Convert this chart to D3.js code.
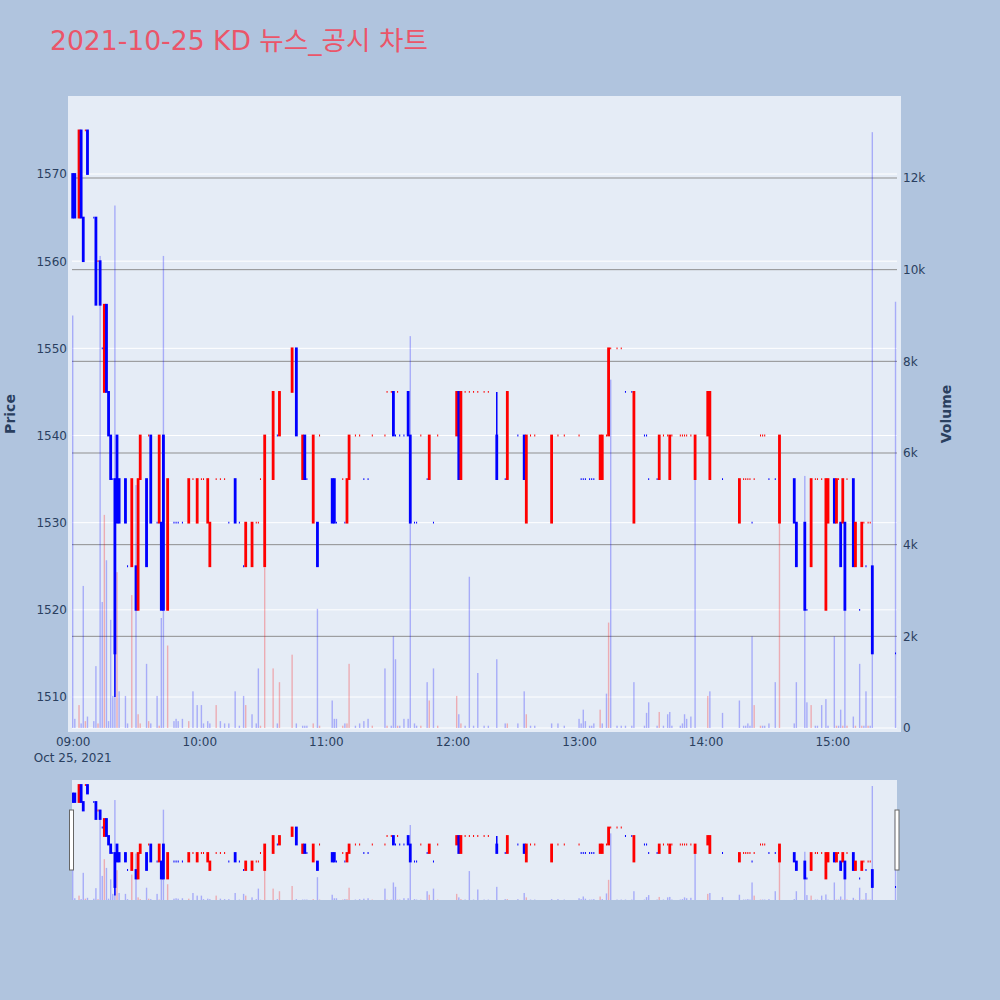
<!DOCTYPE html>
<html><head><meta charset="utf-8">
<script src="https://cdn.jsdelivr.net/npm/d3@7"></script>
<style>body{margin:0;background:#b0c4de;}svg{display:block;}</style>
</head><body>
<svg id="chart" width="1000" height="1000"></svg>
<script>
const chartTitle = "2021-10-25 KD 뉴스_공시 차트";
const tradeDay = "2021-10-25";
const times = [
"09:00","09:01","09:03","09:04","09:05","09:06","09:07","09:10","09:11","09:12",
"09:13","09:14","09:15","09:16","09:17","09:18","09:19","09:20","09:21","09:22",
"09:25","09:26","09:28","09:30","09:31","09:32","09:35","09:36","09:37","09:40",
"09:41","09:42","09:43","09:45","09:48","09:49","09:50","09:52","09:55","09:57",
"09:59","10:01","10:02","10:04","10:05","10:08","10:10","10:12","10:14","10:17",
"10:19","10:21","10:22","10:25","10:27","10:28","10:29","10:31","10:35","10:37",
"10:38","10:44","10:46","10:49","10:50","10:51","10:54","10:56","10:57","11:03",
"11:04","11:05","11:08","11:09","11:10","11:11","11:14","11:16","11:18","11:20",
"11:22","11:28","11:29","11:31","11:32","11:33","11:34","11:35","11:37","11:39",
"11:40","11:42","11:43","11:45","11:48","11:49","11:51","11:53","12:02","12:03",
"12:04","12:06","12:08","12:10","12:12","12:15","12:17","12:21","12:25","12:26",
"12:31","12:34","12:35","12:37","12:39","12:47","12:50","12:53","13:00","13:01",
"13:02","13:03","13:05","13:06","13:07","13:10","13:11","13:13","13:14","13:15",
"13:18","13:20","13:22","13:25","13:26","13:31","13:32","13:33","13:37","13:38",
"13:40","13:42","13:43","13:44","13:48","13:49","13:50","13:51","13:53","13:55",
"14:01","14:02","14:08","14:16","14:18","14:19","14:20","14:21","14:22","14:23",
"14:26","14:27","14:28","14:30","14:33","14:35","14:42","14:43","14:47","14:48",
"14:50","14:52","14:53","14:55","14:57","14:58","15:01","15:02","15:03","15:04",
"15:05","15:06","15:07","15:10","15:11","15:13","15:14","15:15","15:16","15:17",
"15:18","15:19","15:30"];
const openP = [
1570,1570,1565,1575,1565,1575,1575,1565,1565,1560,
1560,1550,1545,1555,1545,1540,1535,1535,1540,1535,
1535,1525,1525,1525,1520,1535,1535,1540,1540,1530,
1530,1530,1540,1520,1530,1530,1530,1530,1530,1535,
1530,1535,1535,1530,1525,1535,1535,1535,1530,1535,
1530,1525,1525,1525,1530,1530,1535,1525,1535,1540,
1540,1545,1550,1535,1540,1535,1530,1530,1540,1535,
1535,1530,1535,1530,1530,1535,1540,1540,1535,1535,
1540,1540,1545,1545,1545,1540,1545,1540,1540,1545,
1540,1530,1530,1540,1535,1535,1530,1540,1540,1545,
1535,1545,1545,1545,1545,1545,1545,1540,1535,1535,
1540,1540,1530,1540,1540,1530,1540,1540,1540,1535,
1535,1535,1535,1535,1535,1535,1535,1540,1540,1550,
1550,1550,1545,1545,1530,1540,1540,1535,1535,1535,
1540,1540,1535,1540,1540,1540,1540,1540,1540,1535,
1540,1535,1535,1530,1535,1535,1535,1535,1530,1535,
1540,1540,1540,1535,1535,1530,1535,1530,1530,1520,
1525,1535,1535,1535,1520,1530,1535,1530,1535,1530,
1530,1530,1535,1535,1525,1520,1525,1530,1525,1530,
1530,1525,1515];
const highP = [
1570,1570,1575,1575,1565,1575,1575,1565,1565,1560,
1560,1550,1555,1555,1545,1540,1535,1535,1540,1535,
1535,1525,1535,1525,1535,1540,1535,1540,1540,1530,
1540,1530,1540,1535,1530,1530,1530,1530,1535,1535,
1535,1535,1535,1535,1530,1535,1535,1535,1530,1535,
1530,1525,1530,1530,1530,1530,1535,1540,1545,1540,
1545,1550,1550,1540,1540,1535,1540,1530,1540,1535,
1535,1530,1535,1530,1535,1540,1540,1540,1535,1535,
1540,1540,1545,1545,1545,1540,1545,1540,1540,1545,
1540,1530,1530,1540,1535,1540,1530,1540,1545,1545,
1545,1545,1545,1545,1545,1545,1545,1545,1535,1545,
1540,1540,1540,1540,1540,1540,1540,1540,1540,1535,
1535,1535,1535,1535,1535,1540,1540,1540,1550,1550,
1550,1550,1545,1545,1545,1540,1540,1535,1535,1540,
1540,1540,1540,1540,1540,1540,1540,1540,1540,1540,
1545,1545,1535,1535,1535,1535,1535,1535,1530,1535,
1540,1540,1540,1535,1535,1540,1535,1530,1530,1520,
1535,1535,1535,1535,1535,1535,1535,1535,1535,1530,
1535,1530,1535,1535,1530,1520,1530,1530,1525,1530,
1530,1525,1515];
const lowP = [
1565,1565,1565,1565,1560,1575,1570,1565,1555,1560,
1555,1550,1545,1545,1540,1535,1535,1510,1530,1530,
1530,1525,1525,1520,1520,1535,1525,1540,1530,1530,
1530,1520,1520,1520,1530,1530,1530,1530,1530,1535,
1530,1535,1535,1530,1525,1535,1535,1535,1530,1530,
1530,1525,1525,1525,1530,1530,1535,1525,1535,1540,
1540,1545,1540,1535,1535,1535,1530,1525,1540,1530,
1530,1530,1535,1530,1530,1535,1540,1540,1535,1535,
1540,1540,1545,1545,1540,1540,1545,1540,1540,1540,
1530,1530,1530,1540,1535,1535,1530,1540,1540,1535,
1535,1545,1545,1545,1545,1545,1545,1535,1535,1535,
1540,1535,1530,1540,1540,1530,1540,1540,1540,1535,
1535,1535,1535,1535,1535,1535,1535,1540,1540,1550,
1550,1550,1545,1545,1530,1540,1540,1535,1535,1535,
1540,1540,1535,1540,1540,1540,1540,1540,1540,1535,
1540,1535,1535,1530,1535,1535,1535,1535,1530,1535,
1540,1540,1540,1535,1535,1530,1530,1525,1520,1520,
1525,1535,1535,1535,1520,1530,1530,1530,1535,1525,
1530,1520,1535,1525,1525,1520,1525,1530,1525,1530,
1530,1515,1515];
const closeP = [
1565,1565,1575,1565,1560,1575,1570,1565,1555,1560,
1555,1550,1555,1545,1540,1535,1535,1515,1530,1530,
1530,1525,1535,1520,1535,1540,1525,1540,1530,1530,
1540,1520,1520,1535,1530,1530,1530,1530,1535,1535,
1535,1535,1535,1535,1530,1535,1535,1535,1530,1530,
1530,1525,1530,1530,1530,1530,1535,1540,1545,1540,
1545,1550,1540,1540,1535,1535,1540,1525,1540,1530,
1530,1530,1535,1530,1535,1540,1540,1540,1535,1535,
1540,1540,1545,1545,1540,1540,1545,1540,1540,1540,
1530,1530,1530,1540,1535,1540,1530,1540,1545,1535,
1545,1545,1545,1545,1545,1545,1545,1535,1535,1545,
1540,1535,1540,1540,1540,1540,1540,1540,1540,1535,
1535,1535,1535,1535,1535,1540,1540,1540,1550,1550,
1550,1550,1545,1545,1545,1540,1540,1535,1535,1540,
1540,1540,1540,1540,1540,1540,1540,1540,1540,1540,
1545,1545,1535,1535,1535,1535,1535,1535,1530,1535,
1540,1540,1540,1535,1535,1540,1530,1525,1520,1520,
1535,1535,1535,1535,1535,1535,1530,1535,1535,1525,
1535,1520,1535,1525,1530,1520,1530,1530,1525,1530,
1530,1515,1515];
const volume = [
9000,200,500,100,3100,150,250,150,1350,100,
10300,2750,4650,3660,150,2360,700,11400,3400,800,
700,100,2900,5300,300,100,1400,150,100,700,
50,2400,10300,1800,150,200,150,200,150,800,
500,500,100,150,100,500,150,100,100,800,
50,700,500,300,100,1300,50,3500,1300,100,
1000,1600,100,50,50,50,100,2600,50,600,
200,200,50,100,100,1400,50,100,150,200,
50,1300,50,50,2000,1500,50,50,200,200,
8550,100,50,50,1000,600,1300,50,700,300,
100,50,3300,50,1200,50,50,1500,100,100,
100,800,300,50,50,100,100,50,200,100,
400,150,50,50,100,400,100,750,2300,7600,
50,50,50,50,1000,50,330,560,50,350,
50,300,350,50,50,100,300,200,250,5600,
700,800,330,600,50,50,100,50,2000,500,
50,50,50,100,1000,4500,100,1000,5500,560,
500,50,50,500,630,50,2000,50,50,400,
50,2600,50,250,50,1400,50,50,800,50,
50,13000,9300];
const priceTicks = [1510,1520,1530,1540,1550,1560,1570];
const volumeTicks = [0,2000,4000,6000,8000,10000,12000];
const volumeTickLabels = ["0","2k","4k","6k","8k","10k","12k"];
const hourTicks = ["09:00","10:00","11:00","12:00","13:00","14:00","15:00"];
const dateLabel = "Oct 25, 2021";

const UP = "#ff0000", DOWN = "#0000ff", INK = "#2a3f5f";
const FONT = "'DejaVu Sans', 'Noto Sans CJK KR', sans-serif";
const parse = d3.timeParse("%Y-%m-%d %H:%M");
const rows = times.map((t, i) => ({
  t: parse(tradeDay + " " + t), o: openP[i], h: highP[i], l: lowP[i], c: closeP[i], v: volume[i]
}));
// Plotly-style direction: body direction, doji compares with previous close
let prevC = null, inc = false;
rows.forEach(r => {
  if (r.c === r.o) { if (prevC !== null && r.c !== prevC) inc = r.c > prevC; }
  else inc = r.c > r.o;
  r.up = inc;
  r.vup = prevC !== null && r.c > prevC;
  prevC = r.c;
});

const svg = d3.select("#chart").style("font-family", FONT);
const x = d3.scaleTime()
  .domain([new Date(2021, 9, 25, 8, 59, 40), new Date(2021, 9, 25, 15, 30, 42)])
  .range([72, 897]);
const yP = d3.scaleLinear().domain([1510, 1570]).range([697, 174]);
const yV = d3.scaleLinear().domain([0, 12000]).range([728, 178]);
const yPs = d3.scaleLinear().domain([1515, 1575]).range([887, 785]);
const yVs = d3.scaleLinear().domain([0, 13000]).range([900, 786]);

svg.append("text").attr("x", 50).attr("y", 50).attr("font-size", 26.6)
  .attr("fill", "#eb5569").text(chartTitle);

// main plot background
svg.append("rect").attr("x", 68).attr("y", 96).attr("width", 833).attr("height", 636).attr("fill", "#e5ecf6");
const defs = svg.append("defs");
defs.append("clipPath").attr("id", "cm").append("rect").attr("x", 68).attr("y", 96).attr("width", 833).attr("height", 636);
defs.append("clipPath").attr("id", "cs").append("rect").attr("x", 72).attr("y", 780).attr("width", 825).attr("height", 120);

// grids
const grid = svg.append("g");
grid.selectAll(".pg").data(priceTicks).join("line")
  .attr("x1", 72).attr("x2", 897).attr("y1", d => yP(d)).attr("y2", d => yP(d))
  .attr("stroke", "#ffffff").attr("stroke-width", 1);
grid.selectAll(".vg").data(volumeTicks).join("line")
  .attr("x1", 72).attr("x2", 897).attr("y1", d => yV(d)).attr("y2", d => yV(d))
  .attr("stroke", d => d === 0 ? "#ffffff" : "#8f8f8f").attr("stroke-width", 1);

function drawSeries(g, yp, yv, bodyW) {
  g.selectAll(".vol").data(rows).join("rect")
    .attr("x", d => x(d.t) - 0.7).attr("width", 1.4)
    .attr("y", d => yv(d.v)).attr("height", d => yv(0) - yv(d.v))
    .attr("fill", d => d.vup ? UP : DOWN).attr("fill-opacity", 0.27);
  g.selectAll(".wick").data(rows).join("line")
    .attr("x1", d => x(d.t)).attr("x2", d => x(d.t))
    .attr("y1", d => yp(d.h)).attr("y2", d => yp(d.l))
    .attr("stroke", d => d.up ? UP : DOWN).attr("stroke-width", 1.5);
  g.selectAll(".body").data(rows).join("path")
    .attr("d", d => {
      const xc = x(d.t), y1 = Math.min(yp(d.o), yp(d.c)), y2 = Math.max(yp(d.o), yp(d.c));
      return `M${xc - bodyW / 2},${y1}H${xc + bodyW / 2}V${y2}H${xc - bodyW / 2}Z`;
    })
    .attr("fill", d => d.up ? UP : DOWN)
    .attr("stroke", d => d.up ? UP : DOWN).attr("stroke-width", 1.8);
}
drawSeries(svg.append("g").attr("clip-path", "url(#cm)"), yP, yV, 1.0);

// axes
const axL = svg.append("g").attr("transform", "translate(67,0)")
  .call(d3.axisLeft(yP).tickValues(priceTicks).tickSize(0).tickPadding(0).tickFormat(d3.format("d")));
const axR = svg.append("g").attr("transform", "translate(903,0)")
  .call(d3.axisRight(yV).tickValues(volumeTicks).tickSize(0).tickPadding(0)
    .tickFormat((d, i) => volumeTickLabels[i]));
const hourDates = hourTicks.map(h => parse(tradeDay + " " + h));
const axB = svg.append("g").attr("transform", "translate(0,732)")
  .call(d3.axisBottom(x).tickValues(hourDates).tickSize(0).tickPadding(5.5)
    .tickFormat(d3.timeFormat("%H:%M")));
[axL, axR, axB].forEach(a => {
  a.select(".domain").remove();
  a.selectAll("text").attr("fill", INK).attr("font-size", 12).attr("font-family", FONT);
});
svg.append("text").attr("x", x(hourDates[0])).attr("y", 762).attr("text-anchor", "middle")
  .attr("font-size", 12).attr("fill", INK).text(dateLabel);

svg.append("text").attr("transform", "translate(14.5,414) rotate(-90)").attr("text-anchor", "middle")
  .attr("font-size", 14).attr("font-weight", "bold").attr("fill", INK).text("Price");
svg.append("text").attr("transform", "translate(951,414) rotate(-90)").attr("text-anchor", "middle")
  .attr("font-size", 14).attr("font-weight", "bold").attr("fill", INK).text("Volume");

// range slider
svg.append("rect").attr("x", 72).attr("y", 780).attr("width", 825).attr("height", 120).attr("fill", "#e5ecf6");
drawSeries(svg.append("g").attr("clip-path", "url(#cs)"), yPs, yVs, 1.0);
[69.5, 895].forEach(hx => {
  svg.append("rect").attr("x", hx).attr("y", 810).attr("width", 4).attr("height", 60)
    .attr("fill", "#ffffff").attr("stroke", "#666666").attr("stroke-width", 1);
});
</script>
</body></html>
